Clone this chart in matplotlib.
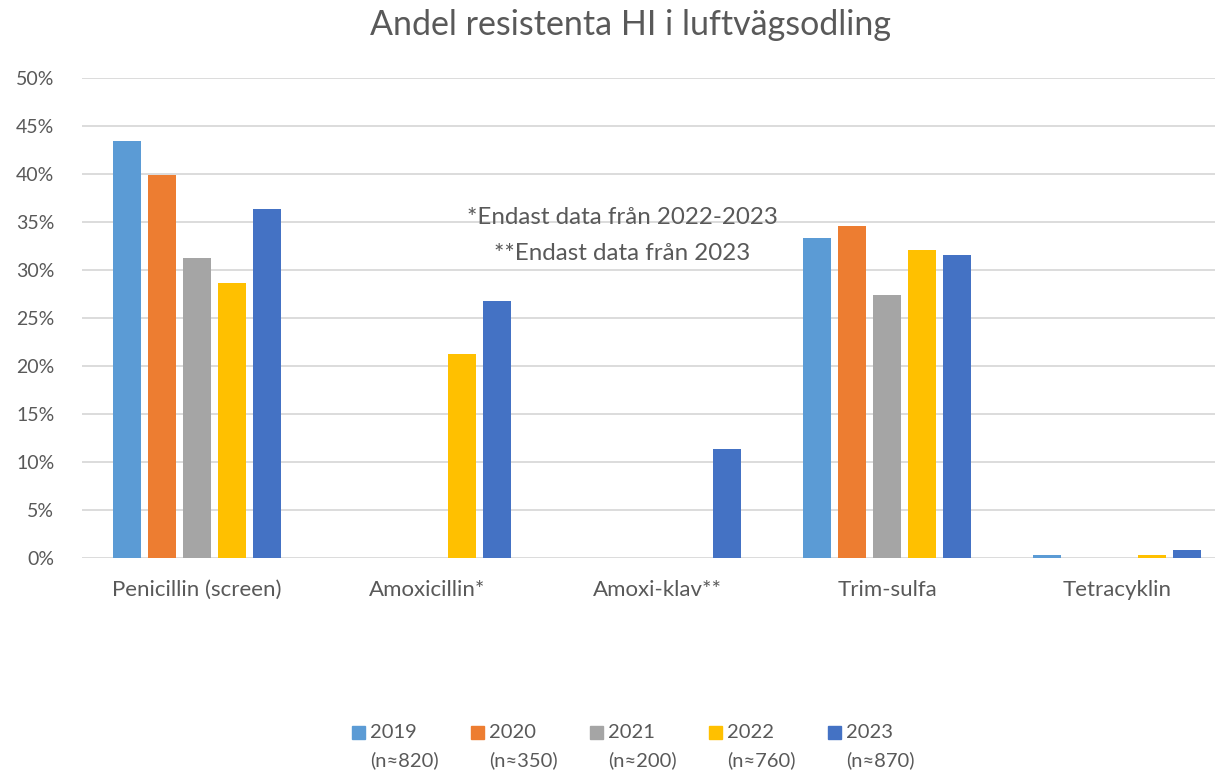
"""Andel resistenta HI i luftvägsodling – grouped bar chart."""

import matplotlib

matplotlib.use("Agg")
import matplotlib.pyplot as plt
from matplotlib.patches import Rectangle
from matplotlib.ticker import PercentFormatter
import numpy as np

plt.rcParams["font.family"] = ["Lato", "DejaVu Sans"]

categories = ["Penicillin (screen)", "Amoxicillin*", "Amoxi-klav**", "Trim-sulfa", "Tetracyklin"]
years = ["2019", "2020", "2021", "2022", "2023"]
sample_sizes = ["(n≈820)", "(n≈350)", "(n≈200)", "(n≈760)", "(n≈870)"]

# percent resistant, per year, one value per category
share_2019 = [43.4, 0.0, 0.0, 33.3, 0.27]
share_2020 = [39.9, 0.0, 0.0, 34.6, 0.0]
share_2021 = [31.2, 0.0, 0.0, 27.4, 0.0]
share_2022 = [28.6, 21.2, 0.0, 32.1, 0.27]
share_2023 = [36.4, 26.8, 11.35, 31.6, 0.83]
series = [share_2019, share_2020, share_2021, share_2022, share_2023]

colors = ["#5B9BD5", "#ED7D31", "#A5A5A5", "#FFC000", "#4472C4"]
TEXT = "#595959"
GRID = "#D9D9D9"

W, H = 1215, 774
CAT = 230  # pixels per category
LEFT = 82
fig = plt.figure(figsize=(W / 100, H / 100), dpi=100)
ax = fig.add_axes([LEFT / W, (H - 558) / H, (W - LEFT) / W, 480 / H])

x = np.arange(len(categories))
pitch = 35 / CAT
for i, (values, color) in enumerate(zip(series, colors)):
    ax.bar(x + (i - 2) * pitch, values, width=28 / CAT, color=color, zorder=3)

ax.set_xlim(-0.5, -0.5 + (W - LEFT) / CAT)
ax.set_ylim(0, 50)
ax.set_yticks(np.arange(0, 51, 5))
ax.yaxis.set_major_formatter(PercentFormatter(decimals=0))
ax.set_xticks(x, categories)
ax.tick_params(axis="both", length=0, labelsize=14, colors=TEXT)
ax.tick_params(axis="x", pad=16, labelsize=16)
ax.tick_params(axis="y", pad=20)
ax.grid(axis="y", color=GRID, linewidth=1.3, zorder=0)
for spine in ax.spines.values():
    spine.set_visible(False)

fig.text(631 / W, 1 - 25 / H, "Andel resistenta HI i luftvägsodling",
         ha="center", va="center", fontsize=24.5, color=TEXT)
fig.text(622 / W, 1 - 218 / H, "*Endast data från 2022-2023",
         ha="center", va="center", fontsize=17.4, color=TEXT)
fig.text(622 / W, 1 - 253 / H, "**Endast data från 2023",
         ha="center", va="center", fontsize=17.4, color=TEXT)

# legend, drawn by hand so the sample size sits under each year
for i, (year, n, color) in enumerate(zip(years, sample_sizes, colors)):
    left = 352 + i * 119
    fig.add_artist(Rectangle((left / W, 1 - 739 / H), 13 / W, 13 / H,
                             transform=fig.transFigure, color=color))
    fig.text((left + 18) / W, 1 - 733 / H, year, ha="left", va="center",
             fontsize=14.5, color=TEXT)
    fig.text((left + 18) / W, 1 - 760 / H, n, ha="left", va="center",
             fontsize=14.5, color=TEXT)

fig.savefig("out.png", dpi=100)
